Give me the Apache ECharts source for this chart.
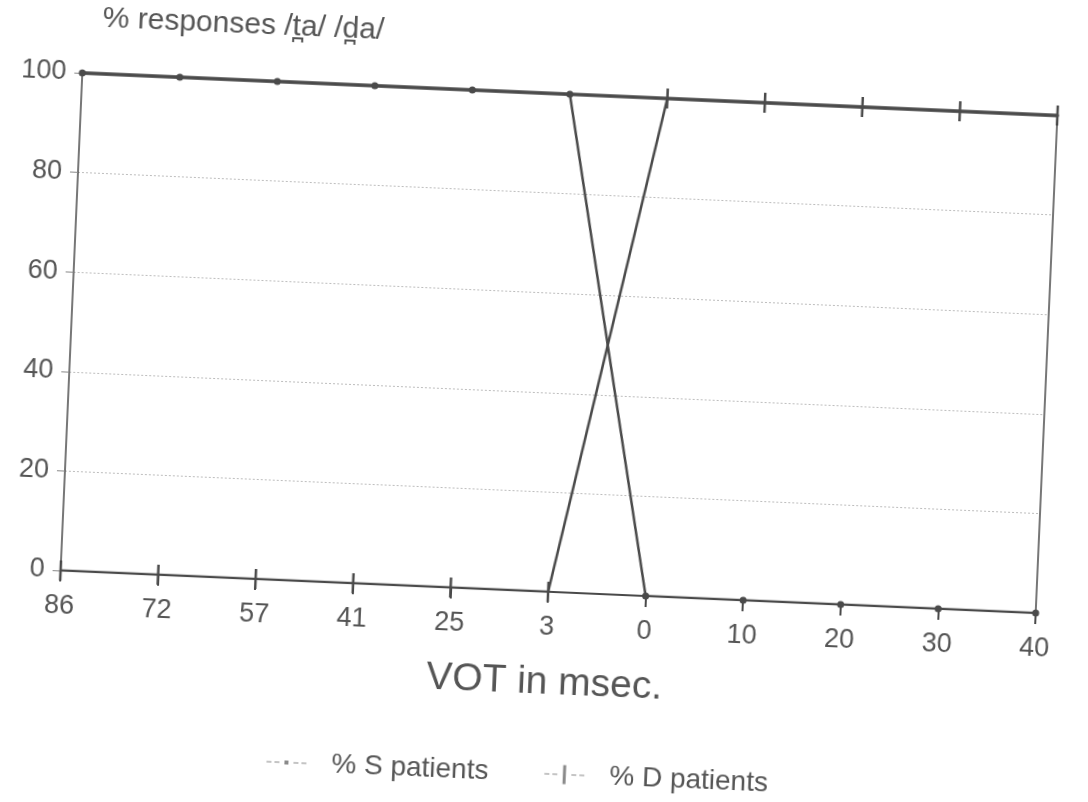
<!DOCTYPE html>
<html>
<head>
<meta charset="utf-8">
<script src="https://cdn.jsdelivr.net/npm/echarts@6/dist/echarts.min.js"></script>
<style>
  html, body { margin: 0; padding: 0; background: #ffffff; overflow: hidden; }
  #chart {
    width: 1088px; height: 802px;
    transform: rotate(2.5deg);
    transform-origin: 559px 343px;
  }
</style>
</head>
<body>
<div id="chart"></div>
<script>
// VOT continuum steps (prevoiced values first, then positive lags)
const votLabels = ['86', '72', '57', '41', '25', '3', '0', '10', '20', '30', '40'];
// Percentage of responses per group
const sPatients = [100, 100, 100, 100, 100, 100, 0, 0, 0, 0, 0];
const dPatients = [0, 0, 0, 0, 0, 0, 100, 100, 100, 100, 100];
const yTicks = [0, 20, 40, 60, 80, 100];

const ink = '#4a4a4a';
const textInk = '#555555';
const font = '"Liberation Sans", Arial, sans-serif';

// Legend glyphs: a thin dashed stroke with a small dot / a vertical bar in the middle
const iconS = 'path://M0,9h5v1h-5z M8,9h5v1h-5z M18,7.5h4v4h-4z M27,9h5v1h-5z M35,9h5v1h-5z';
const iconD = 'path://M0,9h5v1h-5z M8,9h5v1h-5z M18.5,0h3v19h-3z M27,9h5v1h-5z M35,9h5v1h-5z';

const chart = echarts.init(document.getElementById('chart'), null, { renderer: 'canvas' });

chart.setOption({
  backgroundColor: '#ffffff',
  animation: false,
  textStyle: { fontFamily: font, color: textInk },
  grid: { left: 71, top: 94, width: 976, height: 498, containLabel: false },
  legend: {
    left: 280,
    top: 755,
    itemWidth: 40,
    itemHeight: 19,
    itemGap: 56,
    textStyle: { fontFamily: font, fontSize: 28, color: textInk, padding: [0, 0, 0, 20] },
    data: [
      { name: '% S patients', icon: iconS, itemStyle: { color: '#8a8a8a' } },
      { name: '% D patients', icon: iconD, itemStyle: { color: '#8a8a8a' } }
    ]
  },
  xAxis: [
    {
      type: 'category',
      data: votLabels,
      boundaryGap: false,
      name: 'VOT in msec.',
      nameLocation: 'middle',
      nameGap: 72,
      nameTextStyle: { fontFamily: font, fontSize: 39, color: textInk },
      axisLine: { onZero: false, lineStyle: { color: ink, width: 2 } },
      axisTick: { show: true, length: 11, lineStyle: { color: ink, width: 2 } },
      axisLabel: { fontFamily: font, fontSize: 27, color: textInk, margin: 22 },
      splitLine: { show: false }
    },
    {
      // frame line along the 100 % level
      type: 'category',
      data: votLabels,
      boundaryGap: false,
      position: 'top',
      axisLine: { show: true, onZero: false, lineStyle: { color: ink, width: 3.5 } },
      axisTick: { show: false },
      axisLabel: { show: false },
      splitLine: { show: false }
    }
  ],
  yAxis: [
    {
      type: 'value',
      min: yTicks[0],
      max: yTicks[yTicks.length - 1],
      interval: yTicks[1] - yTicks[0],
      name: '% responses /t\u032Aa/ /d\u032Aa/',
      nameLocation: 'end',
      nameGap: 40,
      nameTextStyle: { fontFamily: font, fontSize: 30, color: textInk, align: 'left', padding: [0, 0, 0, 18] },
      axisLine: { show: true, lineStyle: { color: ink, width: 1.5 } },
      axisTick: { show: true, length: 8, lineStyle: { color: '#888', width: 1 } },
      axisLabel: { fontFamily: font, fontSize: 27, color: textInk, margin: 16 },
      splitLine: { show: true, lineStyle: { color: '#bdbdbd', type: [2, 2], width: 1 } }
    },
    {
      type: 'value',
      position: 'right',
      min: yTicks[0],
      max: yTicks[yTicks.length - 1],
      interval: yTicks[1] - yTicks[0],
      axisLine: { show: true, lineStyle: { color: ink, width: 1.5 } },
      axisTick: { show: false },
      axisLabel: { show: false },
      splitLine: { show: false }
    }
  ],
  series: [
    {
      name: '% S patients',
      type: 'line',
      data: sPatients,
      symbol: 'circle',
      symbolSize: 7,
      lineStyle: { color: ink, width: 2.5 },
      itemStyle: { color: ink },
      z: 3
    },
    {
      name: '% D patients',
      type: 'line',
      data: dPatients,
      symbol: 'rect',
      symbolSize: [2.5, 20],
      lineStyle: { color: ink, width: 2.5 },
      itemStyle: { color: ink },
      z: 4
    }
  ]
});
</script>
</body>
</html>
